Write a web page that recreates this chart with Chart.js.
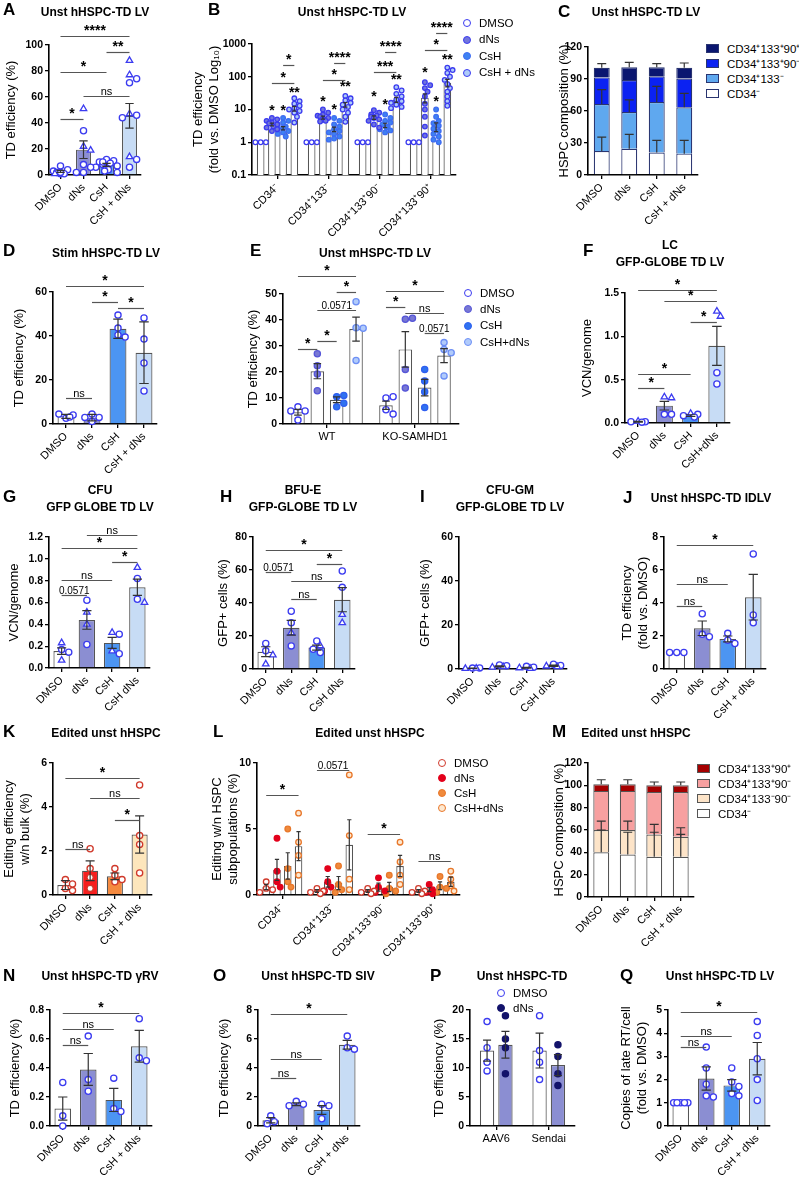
<!DOCTYPE html>
<html>
<head>
<meta charset="utf-8">
<title>HSPC transduction panels</title>
<script src="https://cdn.jsdelivr.net/npm/chart.js@4.4.1/dist/chart.umd.min.js"></script>
<style>
  body { margin: 0; width: 799px; height: 1190px; position: relative; overflow: hidden; background: #fff;
         font-family: "Liberation Sans", Arial, sans-serif; color: #000; }
  canvas { position: absolute; }
  .letter { position: absolute; font-weight: bold; font-size: 17px; line-height: 20px; z-index: 2; }
  .title { position: absolute; font-weight: bold; font-size: 12px; line-height: 17px; text-align: center;
           white-space: nowrap; transform: translateX(-50%); z-index: 2; }
  .legend { position: absolute; font-size: 11.5px; white-space: nowrap; z-index: 2; }
  .legend div { position: relative; }
  .mk { position: absolute; left: 0; width: 6px; height: 6px; border-radius: 50%; border: 1.4px solid; }
  .bx { position: absolute; left: 0; width: 11px; height: 7px; border: 1.2px solid #333; }
</style>
</head>
<body>
<script>
// ---------- data ----------
const treat4 = ['DMSO', 'dNs', 'CsH', 'CsH + dNs'];
const subsets = ['CD34⁻', 'CD34⁺133⁻', 'CD34⁺133⁺90⁻', 'CD34⁺133⁺90⁺'];

// A
const aMean = [2.8, 19.5, 7.8, 45.5];
const aSem = [0.8, 6.8, 1.1, 9.5];
const aPts = [[1, 4, 3, 1, 2, 7, 1, 2], [51, 34, 22, 19, 8, 6, 2, 2],
  [12, 11, 10, 9, 8, 7, 6, 5, 4, 3, 2, 10], [88, 77, 74, 71, 47, 46, 44, 14, 12, 6]];
const aShape = ['ooooooto', 'tottoooo', 'oooooooooooo', 'ttootootoo'];

// B (fold vs DMSO)
const bDmsoMean = [1, 1, 1, 1];
const bDnsMean = [3.5, 5.7, 5.7, 23];
const bCshMean = [2.7, 2.5, 3.3, 3.0];
const bCshDnsMean = [10.7, 14, 20, 66];
const bDnsSem = [0.35, 0.6, 0.7, 7];
const bCshSem = [0.3, 0.4, 0.5, 0.9];
const bCshDnsSem = [1.8, 2.2, 3.5, 17];
const bDmsoPts = [[1, 1, 1], [1, 1, 1], [1, 1, 1], [1, 1, 1]];
const bDnsPts = [[5.5, 5, 4.5, 4, 3.8, 3.5, 3, 2.8, 2.5, 2.2], [10, 8, 7, 6.5, 6, 5.5, 5, 4.8, 4.5, 4.3],
  [9.5, 8, 7, 6.5, 6, 5.5, 5, 4.5, 3.5, 2.8], [68, 55, 45, 35, 25, 15, 10, 6, 3, 1.6]];
const bCshPts = [[5.5, 4.5, 4, 3.5, 3, 2.8, 2.5, 2.2, 2, 1.8, 1.5], [5.5, 4.5, 3.5, 3, 2.5, 2.2, 2, 1.8, 1.5, 1.3, 1.2],
  [7, 5.5, 4.5, 4, 3.5, 3, 2.8, 2.5, 2.3, 2], [10, 6, 4.5, 3.8, 3.2, 2.6, 2.2, 1.8, 1.5, 1.2, 1]];
const bCshDnsPts = [[22, 18, 15, 13, 11, 10, 9, 8, 6, 4], [26, 22, 19, 16, 14, 12, 10, 8, 6, 4.2],
  [48, 38, 30, 25, 20, 18, 16, 14, 12, 11], [190, 160, 130, 100, 80, 60, 45, 35, 25, 18, 13]];

// C (stacked composition)
const cNeg = [22.5, 24.5, 21, 20];
const c133neg = [44, 34.5, 47.5, 43.5];
const c90neg = [25, 30, 24, 27];
const c90pos = [9, 12, 8.5, 10];
const cNegSd = [13, 13.5, 11.5, 12.5];
const c133negSd = [13.5, 11.5, 14.5, 13];
const c90posSd = [4, 4.5, 3.5, 4.5];

// D
const dMean = [3.5, 2.9, 43.3, 32.4];
const dSd = [0.9, 1.5, 4.4, 14];
const dPts = [[2.6, 4.1, 4.5, 3.2], [4.5, 1.1, 3.0, 3.0], [49.5, 43.6, 40.5, 39.5], [48.2, 38.6, 27.7, 15]];

// E (WT, KO-SAMHD1)
const eGroups = ['WT', 'KO-SAMHD1'];
const eDmsoMean = [4.5, 7.2], eDnsMean = [20.3, 28.7], eCshMean = [9.3, 14], eCshDnsMean = [36.5, 26.3];
const eDmsoSem = [1.1, 1.6], eDnsSem = [2.9, 6.8], eCshSem = [1.1, 3.2], eCshDnsSem = [4.6, 2.7];
const eDmsoPts = [[6.6, 5, 5, 1.5], [10, 10.5, 5.5, 3.8]];
const eDnsPts = [[27, 22.4, 19.2, 12.8], [40.3, 40.7, 21, 13.8]];
const eCshPts = [[10.5, 11, 6.6, 8], [21, 16.5, 12.4, 6.3]];
const eCshDnsPts = [[47, 37, 36.8, 24.4], [31.3, 28.7, 27.4, 18.5]];

// F
const fMean = [0.015, 0.2, 0.085, 0.89];
const fSem = [0.004, 0.05, 0.01, 0.225];
const fPts = [[0.02, 0.015, 0.015, 0.01], [0.3, 0.29, 0.1, 0.1], [0.11, 0.1, 0.085, 0.07], [1.29, 1.23, 0.58, 0.45]];
const fShape = ['tooo', 'ttoo', 'tooo', 'ttoo'];

// G
const gMean = [0.155, 0.44, 0.23, 0.74];
const gSem = [0.03, 0.085, 0.05, 0.075];
const gPts = [[0.23, 0.17, 0.145, 0.07], [0.62, 0.51, 0.4, 0.215], [0.325, 0.31, 0.155, 0.13], [0.92, 0.82, 0.63, 0.6]];
const gShape = ['toot', 'otto', 'toto', 'toot'];

// H
const hMean = [10.5, 25, 13, 42];
const hSem = [3, 4.5, 1.5, 7.3];
const hPts = [[15.5, 11, 8.5, 3], [35, 28, 22, 14], [17, 14, 12, 10], [59.4, 49.5, 33, 28]];
const hShape = ['oott', 'ooto', 'otoo', 'oott'];

// I
const iMean = [0.35, 1.2, 0.6, 1.5];
const iSem = [0.08, 0.25, 0.2, 0.3];
const iPts = [[0.4, 0.5, 0.2, 0.3], [1.8, 1.5, 0.8, 1.0], [1.2, 0.8, 0.5, 0.2], [2.2, 1.6, 1.3, 1.0]];
const iShape = ['oott', 'oott', 'oott', 'oott'];

// J
const jMean = [1, 2.47, 1.82, 4.35];
const jSem = [0, 0.44, 0.18, 1.38];
const jPts = [[1, 1, 1], [3.35, 2.1, 1.95], [2.16, 1.75, 1.55], [6.97, 3.27, 2.8]];

// K
const kMean = [0.45, 1.1, 0.85, 2.75];
const kSem = [0.2, 0.45, 0.15, 0.85];
const kPts = [[0.7, 0.5, 0.3, 0.2], [2.1, 1.2, 0.8, 0.3], [1.2, 0.9, 0.7, 0.6], [5, 2.7, 2.3, 1.0]];

// L
const lDmsoMean = [0.6, 0.3, 0.3, 0.3], lDnsMean = [1.9, 1.0, 0.6, 0.4];
const lCshMean = [2.2, 0.9, 0.6, 0.7], lCshDnsMean = [3.7, 3.8, 2.2, 1.0];
const lDmsoSem = [0.2, 0.1, 0.1, 0.1], lDnsSem = [0.8, 0.4, 0.3, 0.15];
const lCshSem = [1.0, 0.5, 0.35, 0.3], lCshDnsSem = [1.1, 1.9, 0.8, 0.35];
const lDmsoPts = [[1.0, 0.5, 0.4, 0.2], [0.5, 0.3, 0.2, 0.1], [0.5, 0.3, 0.2, 0.1], [0.5, 0.3, 0.2, 0.1]];
const lDnsPts = [[4.3, 1.8, 1.0, 0.6], [2.0, 1.0, 0.6, 0.3], [1.3, 0.6, 0.3, 0.2], [0.8, 0.4, 0.2, 0.1]];
const lCshPts = [[5.0, 2.0, 1.0, 0.6], [2.2, 0.8, 0.4, 0.2], [1.5, 0.5, 0.3, 0.1], [1.4, 0.6, 0.5, 0.2]];
const lCshDnsPts = [[6.2, 4.0, 3.0, 1.5], [9.1, 4.5, 1.2, 0.4], [4.0, 2.5, 1.5, 0.8], [1.8, 1.2, 0.7, 0.3]];

// M (stacked composition, edited)
const mNeg = [40, 38, 36, 36];
const m133neg = [20, 22, 20, 18];
const m90neg = [35, 35, 38, 40];
const m90pos = [6, 6, 6, 6];
const mNegSd = [20, 20, 22, 20];
const m133negSd = [8, 8, 9, 8];
const m90posSd = [4, 4, 3, 3];

// N
const nMean = [0.12, 0.39, 0.18, 0.55];
const nSem = [0.08, 0.11, 0.08, 0.11];
const nPts = [[0.3, 0.07, 0.0], [0.62, 0.32, 0.24], [0.33, 0.12, 0.1], [0.74, 0.47, 0.45]];

// O
const oMean = [0.4, 1.5, 1.1, 5.6];
const oSem = [0.18, 0.1, 0.3, 0.3];
const oPts = [[0.7, 0.3, 0.15], [1.7, 1.5, 1.4], [1.5, 1.4, 0.5], [6.2, 5.4, 5.3]];

// P
const pGroups = ['AAV6', 'Sendai'];
const pDmsoMean = [13, 13], pDnsMean = [14, 10.5];
const pDmsoSem = [1.8, 3], pDnsSem = [2.3, 1.8];
const pDmsoPts = [[18, 13.5, 11, 9.5], [19, 13, 11, 8]];
const pDnsPts = [[19, 15, 13.5, 9], [14, 12, 9, 7]];

// Q
const qMean = [1, 2.05, 1.75, 2.9];
const qSem = [0, 0.5, 0.25, 0.7];
const qPts = [[1, 1, 1, 1, 1], [3.4, 2.5, 1.8, 1.3, 1.25], [2.5, 1.9, 1.7, 1.4, 1.3], [4.5, 3.9, 2.9, 2.0, 1.1]];

// ---------- helpers ----------
Chart.defaults.font.family = '"Liberation Sans", Arial, sans-serif';
Chart.defaults.color = '#000';
Chart.defaults.animation = false;

const BLUE = '#3b3bf0';
const blueFills = ['#ffffff', '#8b8ed2', '#4c95f2', '#c7dcf5'];
const redFills = ['#ffffff', '#f81e1e', '#f58a3f', '#fde6bc'];

function addText(cls, html, x, y) {
  const d = document.createElement('div');
  d.className = cls;
  d.innerHTML = html;
  d.style.left = x + 'px';
  d.style.top = y + 'px';
  document.body.appendChild(d);
}

function legend(x, y, gap, items, box) {
  const wrap = document.createElement('div');
  wrap.className = 'legend';
  wrap.style.left = x + 'px';
  wrap.style.top = (y - gap / 2) + 'px';
  items.forEach(([txt, fill, edge]) => {
    const row = document.createElement('div');
    row.style.height = gap + 'px';
    row.style.lineHeight = gap + 'px';
    row.style.paddingLeft = (box ? 21 : 16) + 'px';
    const m = document.createElement('span');
    m.className = box ? 'bx' : 'mk';
    m.style.background = fill;
    m.style.borderColor = edge;
    m.style.top = (gap / 2 - (box ? 5 : 4)) + 'px';
    row.appendChild(m);
    row.appendChild(document.createTextNode(txt));
    wrap.appendChild(row);
  });
  document.body.appendChild(wrap);
}

function simple(means, errs, pts, shapes, fills, ptFill, ptEdge) {
  return means.map((m, t) => ({
    xs: [t], means: [m], errs: [errs[t]], pts: pts ? [pts[t]] : null,
    shapes: shapes ? [shapes[t]] : null, fill: fills[t],
    ptFill: Array.isArray(ptFill) ? ptFill[t] : ptFill, ptEdge
  }));
}

function swarm(vals, yPx, r, maxStep) {
  const placed = [];
  const tries = [0];
  for (let i = 1; i <= maxStep; i++) tries.push(i, -i);
  return vals.map((v, n) => {
    const y = yPx(v);
    let best = null;
    for (const c of tries) {
      const x = c * r * 1.15;
      if (placed.every(q => Math.hypot(q.x - x, q.y - y) >= r * 1.9)) { best = x; break; }
    }
    if (best === null) best = tries[n % tries.length] * r * 0.6;
    placed.push({x: best, y});
    return best;
  });
}

function textFor(ctx, lab) {
  if (/^\*+$/.test(lab)) ctx.font = 'bold 14px "Liberation Sans", Arial';
  else if (lab === 'ns') ctx.font = '11px "Liberation Sans", Arial';
  else ctx.font = '10px "Liberation Sans", Arial';
}

function panel(p) {
  const g = p.geom;
  const lines = Array.isArray(p.yTitle) ? p.yTitle.length : 1;
  const lh = 15.6;
  const left = Math.round(g.tx - lines * lh / 2);
  const top = Math.max(0, g.yt - 50);
  const xH = 62;
  const cv = document.createElement('canvas');
  cv.width = g.ex + 8 - left;
  cv.height = g.yb + xH - top;
  cv.style.left = left + 'px';
  cv.style.top = top + 'px';
  document.body.appendChild(cv);

  const nx = p.labels.length;
  const band = (g.ex - g.ax) / nx;
  const lmin = Math.log10(p.min), lmax = Math.log10(p.max);
  const yPx = v => p.log
    ? g.yb - (Math.log10(v) - lmin) / (lmax - lmin) * (g.yb - g.yt)
    : g.yb - (v - p.min) / (p.max - p.min) * (g.yb - g.yt);
  const T = p.series.length;
  const cat = p.cat || 1;
  const barPct = p.barPct || 0.65;
  const r = p.r || 3.1;
  const centre = (t, x) => p.mode === 'group' ? x + (t - (T - 1) / 2) * cat / T : x;

  const datasets = [];
  p.series.forEach(s => {
    datasets.push({
      type: 'bar', order: 2,
      data: s.xs.map((x, k) => ({x, y: s.means[k]})),
      backgroundColor: s.fill, borderColor: s.edge || '#555', borderWidth: 1.2,
      grouped: p.mode !== 'simple', stack: p.mode === 'stack' ? 's' : undefined,
      categoryPercentage: cat, barPercentage: barPct
    });
  });
  p.series.forEach((s, t) => {
    if (!s.pts) return;
    const data = [], styles = [], radii = [];
    s.xs.forEach((x, k) => {
      const vals = s.pts[k] || [];
      const offs = swarm(vals, yPx, r, p.maxStep || 3);
      vals.forEach((v, i) => {
        data.push({x: centre(t, x) + offs[i] / band, y: v});
        const tri = s.shapes && s.shapes[k] && s.shapes[k][i] === 't';
        styles.push(tri ? 'triangle' : 'circle');
        radii.push(tri ? r * 1.2 : r);
      });
    });
    datasets.push({
      type: 'scatter', order: 1, data, clip: false,
      pointStyle: styles, pointRadius: radii,
      pointBackgroundColor: s.ptFill, pointBorderColor: s.ptEdge, pointBorderWidth: 1.3
    });
  });

  const annot = {
    id: 'annot',
    afterDatasetsDraw(chart) {
      const ctx = chart.ctx;
      const ys = chart.scales.y;
      const barAt = ref => {
        const [k, t] = Array.isArray(ref) ? ref : [0, ref];
        return chart.getDatasetMeta(t).data[k];
      };
      ctx.save();
      ctx.strokeStyle = '#333';
      ctx.lineWidth = 1.2;
      // error bars
      p.series.forEach((s, t) => {
        s.xs.forEach((x, k) => {
          const e = s.errs && s.errs[k];
          if (!e) return;
          const el = chart.getDatasetMeta(t).data[k];
          const cap = el.width * 0.28;
          let y1, y2;
          if (p.mode === 'stack') {
            let cum = 0;
            for (let q = 0; q <= t; q++) cum += p.series[q].means[k];
            y1 = el.y; y2 = ys.getPixelForValue(cum + e);
          } else {
            y1 = ys.getPixelForValue(Math.max(s.means[k] - e, p.log ? p.min : -1e9));
            y2 = ys.getPixelForValue(s.means[k] + e);
          }
          ctx.beginPath();
          ctx.moveTo(el.x, y1); ctx.lineTo(el.x, y2);
          ctx.moveTo(el.x - cap, y2); ctx.lineTo(el.x + cap, y2);
          if (p.mode !== 'stack') { ctx.moveTo(el.x - cap, y1); ctx.lineTo(el.x + cap, y1); }
          ctx.stroke();
        });
      });
      // significance brackets
      ctx.strokeStyle = '#555';
      ctx.fillStyle = '#000';
      ctx.textAlign = 'center';
      ctx.textBaseline = 'alphabetic';
      (p.brackets || []).forEach(([a, b, v, lab]) => {
        const x1 = barAt(a).x, x2 = barAt(b).x;
        const yy = Math.round(ys.getPixelForValue(v)) + 0.5;
        ctx.beginPath(); ctx.moveTo(x1, yy); ctx.lineTo(x2, yy); ctx.stroke();
        textFor(ctx, lab);
        ctx.fillText(lab, (x1 + x2) / 2, yy - 2);
      });
      (p.marks || []).forEach(([a, v, lab]) => {
        textFor(ctx, lab);
        ctx.fillText(lab, barAt(a).x, ys.getPixelForValue(v) + 6);
      });
      ctx.restore();
    }
  };

  const axisGrid = {display: true, drawOnChartArea: false, drawTicks: true, tickLength: 4, color: '#000', lineWidth: 1.3, offset: false};
  const axisBorder = {display: true, color: '#000', width: 1.6};
  const rot = p.rot === undefined ? 45 : p.rot;

  new Chart(cv, {
    type: 'bar',
    data: {datasets},
    plugins: [annot],
    options: {
      responsive: false, devicePixelRatio: 1, animation: false,
      layout: {padding: {top: g.yt - top, right: 8, left: 0, bottom: 0}},
      plugins: {legend: {display: false}, tooltip: {enabled: false}},
      scales: {
        x: {
          type: 'linear', min: -0.5, max: nx - 0.5, offset: false, stacked: p.mode === 'stack',
          afterBuildTicks: sc => { sc.ticks = p.labels.map((_, i) => ({value: i})); },
          afterFit: sc => { sc.height = xH; sc.paddingLeft = 0; sc.paddingRight = 0; },
          ticks: {autoSkip: false, minRotation: rot, maxRotation: rot, padding: 2, color: '#000',
                  font: {size: 11}, callback: (v, i) => p.labels[i]},
          grid: axisGrid, border: axisBorder
        },
        y: {
          type: p.log ? 'logarithmic' : 'linear', min: p.min, max: p.max, stacked: p.mode === 'stack',
          afterBuildTicks: sc => { sc.ticks = p.yTicks.map(v => ({value: v})); },
          afterFit: sc => { sc.width = g.ax - left; sc.paddingTop = 0; sc.paddingBottom = 0; },
          ticks: {padding: 2, color: '#000', font: {size: 10.5, weight: 'bold'},
                  callback: v => p.fmt ? Number(v).toFixed(p.fmt) : String(v)},
          grid: axisGrid, border: axisBorder,
          title: {display: true, text: p.yTitle, color: '#000', font: {size: 13}, padding: 0}
        }
      }
    }
  });
}

// ---------- panels ----------
panel({
  geom: {ax: 49, ex: 141, yt: 45, yb: 175, tx: 12}, yTitle: 'TD efficiency (%)',
  min: 0, max: 100, yTicks: [0, 20, 40, 60, 80, 100], labels: treat4, mode: 'simple',
  series: simple(aMean, aSem, aPts, aShape, blueFills, '#fff', BLUE),
  brackets: [[0, 3, 107, '****'], [2, 3, 94.6, '**'], [0, 2, 79, '*'], [1, 3, 61, 'ns'], [0, 1, 43, '*']]
});

panel({
  geom: {ax: 252, ex: 456, yt: 44, yb: 175, tx: 207}, yTitle: ['TD efficiency', '(fold vs. DMSO Log₁₀)'],
  min: 0.1, max: 1000, log: true, yTicks: [0.1, 1, 10, 100, 1000], labels: subsets, mode: 'group',
  cat: 0.88, barPct: 0.68, r: 2.3, maxStep: 2,
  series: [
    {xs: [0, 1, 2, 3], means: bDmsoMean, errs: null, pts: bDmsoPts, fill: '#fff', ptFill: '#fff', ptEdge: BLUE},
    {xs: [0, 1, 2, 3], means: bDnsMean, errs: bDnsSem, pts: bDnsPts, fill: '#fff', ptFill: '#7276dc', ptEdge: BLUE},
    {xs: [0, 1, 2, 3], means: bCshMean, errs: bCshSem, pts: bCshPts, fill: '#fff', ptFill: '#3e82f2', ptEdge: '#3e6cf2'},
    {xs: [0, 1, 2, 3], means: bCshDnsMean, errs: bCshDnsSem, pts: bCshDnsPts, fill: '#fff', ptFill: '#aecbf8', ptEdge: BLUE}
  ],
  brackets: [[[0, 1], [0, 3], 66, '*'], [[0, 2], [0, 3], 230, '*'], [[1, 1], [1, 3], 81, '*'], [[1, 2], [1, 3], 265, '****'],
    [[2, 1], [2, 3], 141, '***'], [[2, 2], [2, 3], 570, '****'], [[3, 1], [3, 3], 660, '*'], [[3, 2], [3, 3], 2150, '****']],
  marks: [[[0, 1], 10.7, '*'], [[0, 2], 10.7, '*'], [[0, 3], 37, '**'], [[1, 1], 20, '*'], [[1, 2], 11.5, '*'], [[1, 3], 57, '**'],
    [[2, 1], 27, '*'], [[2, 2], 16, '*'], [[2, 3], 93, '**'], [[3, 1], 150, '*'], [[3, 2], 20, '*'], [[3, 3], 380, '**']]
});

panel({
  geom: {ax: 588, ex: 698, yt: 47, yb: 175, tx: 565}, yTitle: 'HSPC composition (%)',
  min: 0, max: 120, yTicks: [0, 30, 60, 90, 120], labels: treat4, mode: 'stack', barPct: 0.58,
  series: [
    {xs: [0, 1, 2, 3], means: cNeg, errs: cNegSd, fill: '#ffffff', edge: '#2a3570'},
    {xs: [0, 1, 2, 3], means: c133neg, errs: c133negSd, fill: '#5fa8ef', edge: '#2a3570'},
    {xs: [0, 1, 2, 3], means: c90neg, errs: null, fill: '#0b22f2', edge: '#2a3570'},
    {xs: [0, 1, 2, 3], means: c90pos, errs: c90posSd, fill: '#0a1670', edge: '#2a3570'}
  ]
});

panel({
  geom: {ax: 53, ex: 157, yt: 292, yb: 424, tx: 20}, yTitle: 'TD efficiency (%)',
  min: 0, max: 60, yTicks: [0, 20, 40, 60], labels: treat4, mode: 'simple',
  series: simple(dMean, dSd, dPts, null, blueFills, '#fff', BLUE),
  brackets: [[0, 3, 62.7, '*'], [1, 2, 55.5, '*'], [2, 3, 52.7, '*'], [0, 1, 12, 'ns']]
});

panel({
  geom: {ax: 283, ex: 459, yt: 294, yb: 424, tx: 254}, yTitle: 'TD efficiency (%)',
  min: 0, max: 50, yTicks: [0, 10, 20, 30, 40, 50], labels: eGroups, mode: 'group', rot: 0,
  cat: 0.88, barPct: 0.7,
  series: [
    {xs: [0, 1], means: eDmsoMean, errs: eDmsoSem, pts: eDmsoPts, fill: '#fff', ptFill: '#fff', ptEdge: BLUE},
    {xs: [0, 1], means: eDnsMean, errs: eDnsSem, pts: eDnsPts, fill: '#fff', ptFill: '#7878d4', ptEdge: '#5656d8'},
    {xs: [0, 1], means: eCshMean, errs: eCshSem, pts: eCshPts, fill: '#fff', ptFill: '#2f72f0', ptEdge: '#2f5ff0'},
    {xs: [0, 1], means: eCshDnsMean, errs: eCshDnsSem, pts: eCshDnsPts, fill: '#fff', ptFill: '#b1cbfb', ptEdge: '#6d8ff5'}
  ],
  brackets: [[[0, 0], [0, 3], 57, '*'], [[0, 2], [0, 3], 50.6, '*'], [[0, 1], [0, 3], 43.8, '0.0571'], [[0, 1], [0, 2], 32, '*'],
    [[0, 0], [0, 1], 28.7, '*'], [[1, 0], [1, 3], 51.2, '*'], [[1, 0], [1, 1], 44.9, '*'], [[1, 1], [1, 3], 42.8, 'ns'],
    [[1, 2], [1, 3], 35.1, '0.0571']]
});

panel({
  geom: {ax: 625, ex: 730, yt: 293, yb: 423, tx: 588}, yTitle: 'VCN/genome',
  min: 0, max: 1.5, yTicks: [0, 0.5, 1, 1.5], fmt: 1, labels: ['DMSO', 'dNs', 'CsH', 'CsH+dNs'], mode: 'simple',
  series: simple(fMean, fSem, fPts, fShape, blueFills, '#fff', BLUE),
  brackets: [[0, 3, 1.54, '*'], [1, 3, 1.41, '*'], [2, 3, 1.16, '*'], [0, 2, 0.57, '*'], [0, 1, 0.40, '*']]
});

panel({
  geom: {ax: 49, ex: 150, yt: 537, yb: 668, tx: 15}, yTitle: 'VCN/genome',
  min: 0, max: 1.2, yTicks: [0, 0.2, 0.4, 0.6, 0.8, 1.0, 1.2], fmt: 1, labels: ['DMSO', 'dNs', 'CsH', 'CsH dNs'], mode: 'simple',
  series: simple(gMean, gSem, gPts, gShape, blueFills, '#fff', BLUE),
  brackets: [[1, 3, 1.22, 'ns'], [0, 3, 1.10, '*'], [2, 3, 0.975, '*'], [0, 2, 0.81, 'ns'], [0, 1, 0.67, '0.0571']]
});

panel({
  geom: {ax: 253, ex: 355, yt: 537, yb: 669, tx: 224}, yTitle: 'GFP+ cells (%)',
  min: 0, max: 80, yTicks: [0, 20, 40, 60, 80], labels: ['DMSO', 'dNs', 'CsH', 'CsH dNs'], mode: 'simple',
  series: simple(hMean, hSem, hPts, hShape, blueFills, '#fff', BLUE),
  brackets: [[0, 3, 72, '*'], [2, 3, 63.4, '*'], [0, 1, 59, '0.0571'], [1, 3, 53.3, 'ns'], [1, 2, 42.4, 'ns']]
});

panel({
  geom: {ax: 459, ex: 567, yt: 537, yb: 669, tx: 426}, yTitle: 'GFP+ cells (%)',
  min: 0, max: 60, yTicks: [0, 20, 40, 60], labels: ['DMSO', 'dNs', 'CsH', 'CsH dNs'], mode: 'simple',
  series: simple(iMean, iSem, iPts, iShape, blueFills, '#fff', BLUE)
});

panel({
  geom: {ax: 664, ex: 766, yt: 537, yb: 669, tx: 636}, yTitle: ['TD efficiency', '(fold vs. DMSO)'],
  min: 0, max: 8, yTicks: [0, 2, 4, 6, 8], labels: treat4, mode: 'simple',
  series: simple(jMean, jSem, jPts, null, blueFills, '#fff', BLUE),
  brackets: [[0, 3, 7.5, '*'], [0, 2, 5.15, 'ns'], [0, 1, 3.8, 'ns']]
});

panel({
  geom: {ax: 53, ex: 152, yt: 763, yb: 895, tx: 18}, yTitle: ['Editing efficiency', 'w/n bulk (%)'],
  min: 0, max: 6, yTicks: [0, 2, 4, 6], labels: treat4, mode: 'simple',
  series: simple(kMean, kSem, kPts, null, redFills, '#fff', '#d0392b'),
  brackets: [[0, 3, 5.3, '*'], [1, 3, 4.4, 'ns'], [2, 3, 3.4, '*'], [0, 1, 2.1, 'ns']]
});

panel({
  geom: {ax: 257, ex: 460, yt: 763, yb: 895, tx: 226}, yTitle: ['Editing w/n HSPC', 'subpopulations (%)'],
  min: 0, max: 10, yTicks: [0, 5, 10], labels: subsets, mode: 'group', cat: 0.85, barPct: 0.7, r: 2.8, maxStep: 2,
  series: [
    {xs: [0, 1, 2, 3], means: lDmsoMean, errs: lDmsoSem, pts: lDmsoPts, fill: '#fff', ptFill: '#fff', ptEdge: '#d0392b'},
    {xs: [0, 1, 2, 3], means: lDnsMean, errs: lDnsSem, pts: lDnsPts, fill: '#fff', ptFill: '#e3001b', ptEdge: '#e3001b'},
    {xs: [0, 1, 2, 3], means: lCshMean, errs: lCshSem, pts: lCshPts, fill: '#fff', ptFill: '#f08a3c', ptEdge: '#e8772a'},
    {xs: [0, 1, 2, 3], means: lCshDnsMean, errs: lCshDnsSem, pts: lCshDnsPts, fill: '#fff', ptFill: '#fde8d0', ptEdge: '#e8772a'}
  ],
  brackets: [[[0, 0], [0, 3], 7.6, '*'], [[1, 0], [1, 3], 9.5, '0.0571'], [[2, 0], [2, 3], 4.6, '*'], [[3, 0], [3, 3], 2.6, 'ns']]
});

panel({
  geom: {ax: 588, ex: 694, yt: 763, yb: 897, tx: 560}, yTitle: 'HSPC composition (%)',
  min: 0, max: 120, yTicks: [0, 20, 40, 60, 80, 100, 120], labels: treat4, mode: 'stack', barPct: 0.6,
  series: [
    {xs: [0, 1, 2, 3], means: mNeg, errs: mNegSd, fill: '#ffffff', edge: '#555'},
    {xs: [0, 1, 2, 3], means: m133neg, errs: m133negSd, fill: '#fde4c8', edge: '#555'},
    {xs: [0, 1, 2, 3], means: m90neg, errs: null, fill: '#f7a0a0', edge: '#555'},
    {xs: [0, 1, 2, 3], means: m90pos, errs: m90posSd, fill: '#a50000', edge: '#555'}
  ]
});

panel({
  geom: {ax: 50, ex: 152, yt: 1010, yb: 1126, tx: 16}, yTitle: 'TD efficiency (%)',
  min: 0, max: 0.8, yTicks: [0, 0.2, 0.4, 0.6, 0.8], fmt: 1, labels: treat4, mode: 'simple',
  series: simple(nMean, nSem, nPts, null, blueFills, '#fff', BLUE),
  brackets: [[0, 3, 0.78, '*'], [0, 2, 0.67, 'ns'], [0, 1, 0.56, 'ns']]
});

panel({
  geom: {ax: 258, ex: 360, yt: 1010, yb: 1126, tx: 225}, yTitle: 'TD efficiency (%)',
  min: 0, max: 8, yTicks: [0, 2, 4, 6, 8], labels: treat4, mode: 'simple',
  series: simple(oMean, oSem, oPts, null, blueFills, '#fff', BLUE),
  brackets: [[0, 3, 7.7, '*'], [0, 2, 4.6, 'ns'], [0, 1, 3.3, 'ns']]
});

panel({
  geom: {ax: 470, ex: 575, yt: 1010, yb: 1126, tx: 440}, yTitle: 'TD efficiency (%)',
  min: 0, max: 20, yTicks: [0, 5, 10, 15, 20], labels: pGroups, mode: 'group', rot: 0, cat: 0.7, barPct: 0.78,
  series: [
    {xs: [0, 1], means: pDmsoMean, errs: pDmsoSem, pts: pDmsoPts, fill: '#fff', ptFill: '#fff', ptEdge: BLUE},
    {xs: [0, 1], means: pDnsMean, errs: pDnsSem, pts: pDnsPts, fill: '#8b8ed2', ptFill: '#13136b', ptEdge: '#13136b'}
  ]
});

panel({
  geom: {ax: 668, ex: 770, yt: 1010, yb: 1126, tx: 635}, yTitle: ['Copies of late RT/cell', '(fold vs. DMSO)'],
  min: 0, max: 5, yTicks: [0, 1, 2, 3, 4, 5], labels: treat4, mode: 'simple',
  series: simple(qMean, qSem, qPts, null, blueFills, '#fff', BLUE),
  brackets: [[0, 3, 4.9, '*'], [0, 2, 3.9, 'ns'], [0, 1, 3.4, 'ns']]
});

// ---------- letters, titles, legends ----------
[['A', 3, 10], ['B', 208, 10], ['C', 558, 12], ['D', 3, 251], ['E', 250, 251], ['F', 583, 251],
 ['G', 3, 497], ['H', 220, 497], ['I', 420, 497], ['J', 623, 498], ['K', 3, 732], ['L', 213, 732],
 ['M', 552, 732], ['N', 3, 976], ['O', 213, 976], ['P', 430, 976], ['Q', 620, 976]]
  .forEach(([t, x, y]) => addText('letter', t, x, y - 10));

[['Unst hHSPC-TD LV', 95, 12], ['Unst hHSPC-TD LV', 352, 12], ['Unst hHSPC-TD LV', 646, 12],
 ['Stim hHSPC-TD LV', 106, 253], ['Unst mHSPC-TD LV', 375, 253], ['LC<br>GFP-GLOBE TD LV', 670, 245],
 ['CFU<br>GFP GLOBE TD LV', 100, 490], ['BFU-E<br>GFP-GLOBE TD LV', 303, 490], ['CFU-GM<br>GFP-GLOBE TD LV', 510, 490],
 ['Unst hHSPC-TD IDLV', 711, 498], ['Edited unst hHSPC', 106, 733], ['Edited unst hHSPC', 370, 733],
 ['Edited unst hHSPC', 636, 733], ['Unst hHSPC-TD γRV', 100, 976], ['Unst hHSPC-TD SIV', 318, 976],
 ['Unst hHSPC-TD', 522, 976], ['Unst hHSPC-TD LV', 720, 976]]
  .forEach(([t, x, y]) => addText('title', t, x, y - 8));

legend(463, 23, 16.5, [['DMSO', '#fff', BLUE], ['dNs', '#7276dc', BLUE], ['CsH', '#3e82f2', '#3e6cf2'], ['CsH + dNs', '#aecbf8', BLUE]]);
legend(706, 49, 15, [['CD34⁺133⁺90⁺', '#0a1670'], ['CD34⁺133⁺90⁻', '#0b22f2'], ['CD34⁺133⁻', '#5fa8ef'], ['CD34⁻', '#ffffff']].map(([a, b]) => [a, b, '#2a3570']), true);
legend(464, 293, 16.3, [['DMSO', '#fff', BLUE], ['dNs', '#7878d4', '#5656d8'], ['CsH', '#2f72f0', '#2f5ff0'], ['CsH+dNs', '#b1cbfb', '#6d8ff5']]);
legend(438, 763, 15, [['DMSO', '#fff', '#d0392b'], ['dNs', '#e3001b', '#e3001b'], ['CsH', '#f08a3c', '#e8772a'], ['CsH+dNs', '#fde8d0', '#e8772a']]);
legend(697, 769, 15, [['CD34⁺133⁺90⁺', '#a50000'], ['CD34⁺133⁺90⁻', '#f7a0a0'], ['CD34⁺133⁻90⁻', '#fde4c8'], ['CD34⁻', '#ffffff']].map(([a, b]) => [a, b, '#555']), true);
legend(497, 993, 15, [['DMSO', '#fff', BLUE], ['dNs', '#13136b', '#13136b']]);
</script>
</body>
</html>
